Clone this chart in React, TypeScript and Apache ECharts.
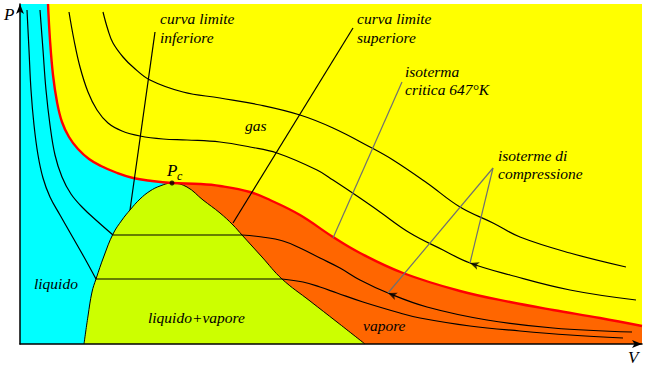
import React, { useEffect, useRef } from "react";
import * as echarts from "echarts";

// Data units: V (horizontal), P (vertical), arbitrary scale 0..622 x 0..340
const criticalIsotherm: number[][] = [
  [28, 340], [30, 304], [33, 269], [37, 242], [42, 222], [49, 207], [58, 195], [69, 185],
  [81, 178], [96, 171.5], [113, 166], [132, 163], [152, 161], [180, 160], [200, 158],
  [230, 152], [250, 144], [280, 129], [313, 107], [340, 91], [383, 71], [440, 53], [490, 42],
  [533, 34], [580, 26], [622, 18],
];
const criticalRight: number[][] = criticalIsotherm.filter((p) => p[0] >= 152);

const dome: number[][] = [
  [64, 0], [68, 28], [72, 52], [76, 65], [84, 88], [93, 110], [102, 124], [110, 134],
  [120, 145], [130, 153], [140, 158], [152, 161], [167, 157], [183, 144], [200, 131],
  [213, 119], [222, 109], [242, 87], [262, 65], [290, 43], [317, 22], [345, 0],
];

const isoA_liquid: number[][] = [
  [7, 334], [9, 294], [11, 254], [14, 219], [18, 189], [23, 166], [30, 147], [40, 129],
  [52, 108], [64, 87], [76, 65],
];
const isoA_mix: number[][] = [[76, 65], [262, 65]];
const isoA_vapour: number[][] = [
  [262, 65], [283, 62], [300, 57], [317, 51], [343, 42], [380, 31], [400, 26], [450, 18],
  [500, 13], [550, 9], [603, 6],
];

const isoB_liquid: number[][] = [
  [20, 334], [23, 294], [26, 254], [30, 219], [35, 189], [42, 167], [51, 150], [63, 136],
  [77, 123], [93, 109],
];
const isoB_mix: number[][] = [[93, 109], [222, 109]];
const isoB_vapour: number[][] = [
  [222, 109], [242, 107], [263, 103], [280, 96], [300, 86], [320, 76], [340, 64], [368, 51],
  [407, 37], [467, 24], [533, 16], [612, 12],
];

const isoD: number[][] = [
  [49, 332], [54, 304], [60, 277], [68, 252], [77, 234], [88, 221], [102, 213], [120, 208],
  [143, 205], [167, 204], [200, 202], [230, 197], [257, 191], [297, 174], [313, 164], [340, 146],
  [360, 132], [390, 111], [423, 94], [450, 81], [490, 69], [550, 54], [616, 44],
];
const isoE: number[][] = [
  [83, 332], [88, 314], [93, 301], [103, 287], [113, 277], [130, 264], [163, 252], [200, 246],
  [240, 239], [280, 229], [313, 216], [350, 197], [373, 184], [407, 161], [440, 137],
  [473, 121], [500, 107], [550, 91], [606, 77],
];

const pointerInferiore: number[][] = [[135, 312], [110, 134]];
const pointerSuperiore: number[][] = [[333, 316], [213, 121]];
const pointerCritica: number[][] = [[382, 262], [313, 106]];
const pointerCompr1: number[][] = [[473, 176], [450, 81]];
const pointerCompr2: number[][] = [[473, 176], [368, 51]];

const arrowHeads: number[][] = [[450, 81], [368, 51]];
const arrowAngles: number[] = [70, 68];
const criticalPoint: number[][] = [[152, 161]];

const FONT = "Liberation Serif";

export default function App() {
  const ref = useRef<HTMLDivElement>(null);
  useEffect(() => {
    if (!ref.current) return;
    const chart = echarts.init(ref.current, undefined, { renderer: "svg" });

    const blackLine = (data: number[][], smooth: number | boolean = 0.4, color = "#000", width = 1.2) => ({
      type: "line",
      data,
      smooth,
      showSymbol: false,
      symbol: "none",
      silent: true,
      lineStyle: { color, width },
      z: 5,
    });

    const txt = (text: string, x: number, y: number, size = 15.5) => ({
      type: "text",
      x,
      y,
      z: 100,
      style: {
        text,
        fontFamily: FONT,
        fontStyle: "italic",
        fontSize: size,
        fill: "#000",
        verticalAlign: "middle",
        align: "left",
      },
    });

    const option: any = {
      animation: false,
      textStyle: { fontFamily: FONT },
      grid: {
        left: 20,
        top: 4,
        width: 622,
        height: 340,
        show: true,
        backgroundColor: "#00FFFF",
        borderWidth: 0,
      },
      xAxis: {
        type: "value",
        min: 0,
        max: 622,
        z: 10,
        axisLine: {
          show: true,
          onZero: false,
          symbol: ["none", "arrow"],
          symbolSize: [6, 10],
          symbolOffset: [0, 0],
          lineStyle: { color: "#000", width: 1.5 },
        },
        axisTick: { show: false },
        axisLabel: { show: false },
        splitLine: { show: false },
      },
      yAxis: {
        type: "value",
        min: 0,
        max: 340,
        z: 10,
        axisLine: {
          show: true,
          onZero: false,
          symbol: ["none", "arrow"],
          symbolSize: [6, 10],
          symbolOffset: [0, 0],
          lineStyle: { color: "#000", width: 1.5 },
        },
        axisTick: { show: false },
        axisLabel: { show: false },
        splitLine: { show: false },
      },
      series: [
        {
          type: "line",
          data: criticalIsotherm,
          smooth: 0.4,
          showSymbol: false,
          symbol: "none",
          silent: true,
          lineStyle: { width: 0 },
          areaStyle: { color: "#FFFF00", opacity: 1, origin: "end" },
          z: 1,
        },
        {
          type: "line",
          data: criticalRight,
          smooth: 0.4,
          showSymbol: false,
          symbol: "none",
          silent: true,
          lineStyle: { width: 0 },
          areaStyle: { color: "#FF6600", opacity: 1, origin: "start" },
          z: 1,
        },
        {
          type: "line",
          data: dome,
          smooth: 0.4,
          showSymbol: false,
          symbol: "none",
          silent: true,
          lineStyle: { color: "#000", width: 1 },
          areaStyle: { color: "#CCFF00", opacity: 1, origin: "start" },
          z: 2,
        },
        blackLine(isoA_liquid),
        blackLine(isoA_mix, false),
        blackLine(isoA_vapour),
        blackLine(isoB_liquid),
        blackLine(isoB_mix, false),
        blackLine(isoB_vapour),
        blackLine(isoD),
        blackLine(isoE),
        blackLine(criticalIsotherm, 0.4, "#FF0000", 2.4),
        blackLine(pointerInferiore, false),
        blackLine(pointerSuperiore, false),
        blackLine(pointerCritica, false, "#707070", 1.2),
        blackLine(pointerCompr1, false, "#707070", 1.2),
        blackLine(pointerCompr2, false, "#707070", 1.2),
        {
          type: "scatter",
          data: arrowHeads.map((p, i) => ({ value: p, symbolRotate: arrowAngles[i] })),
          symbol: "arrow",
          symbolSize: [6, 9],
          itemStyle: { color: "#000" },
          silent: true,
          z: 6,
        },
        {
          type: "scatter",
          data: criticalPoint,
          symbol: "circle",
          symbolSize: 5,
          itemStyle: { color: "#000" },
          silent: true,
          z: 6,
        },
      ],
      graphic: [
        txt("P", 4, 14, 17),
        txt("V", 628, 357, 17),
        txt("curva limite", 160, 18),
        txt("inferiore", 160, 37),
        txt("curva limite", 357, 18),
        txt("superiore", 357, 37),
        txt("isoterma", 405, 71),
        txt("critica 647°K", 405, 89),
        txt("isoterme di", 498, 155),
        txt("compressione", 498, 173),
        txt("gas", 245, 125),
        txt("liquido", 34, 283),
        txt("liquido+vapore", 148, 317),
        txt("vapore", 363, 325),
        txt("P", 167, 170, 17),
        txt("c", 177, 176, 12),
      ],
    };
    chart.setOption(option);
    return () => chart.dispose();
  }, []);
  return (
    <div
      ref={ref}
      style={{ position: "absolute", left: 0, top: 0, width: 645, height: 370, background: "#fff" }}
    />
  );
}
